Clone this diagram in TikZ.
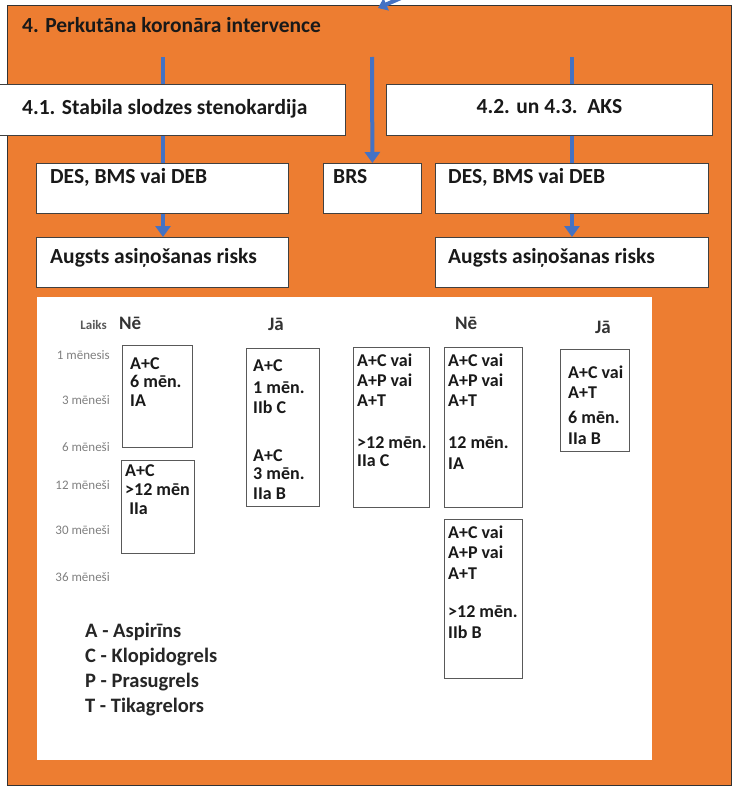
\documentclass[tikz,border=0pt]{standalone}
\usepackage{fontspec}
\setmainfont{Carlito}
\usetikzlibrary{arrows.meta}
\definecolor{pciorange}{HTML}{ED7D31}
\definecolor{pciblue}{HTML}{4472C4}
\tikzset{
  wbox/.style={draw=black!75, line width=0.8pt, fill=white, anchor=north west, inner sep=0pt},
  cell/.style={draw=black!65, line width=1pt, fill=white, anchor=north west, inner sep=0pt},
  hd/.style={font=\fontsize{21.5}{25}\selectfont\bfseries, text=black!90, anchor=base west, inner sep=0pt},
  celltxt/.style={font=\fontsize{18}{20}\selectfont\bfseries, text=black!90, align=left, anchor=north west, inner sep=0pt},
  tm/.style={font=\fontsize{13}{15}\selectfont, text=black!50, anchor=base east, inner sep=0pt},
  colhd/.style={font=\fontsize{19}{22}\selectfont\bfseries, text=black!80, anchor=base west, inner sep=0pt},
  flow/.style={pciblue, line width=4pt},
  flowarr/.style={flow, -{Triangle[width=15pt,length=11pt]}}
}
\begin{document}
\begin{tikzpicture}[x=1pt,y=-1pt]
\useasboundingbox (0,0) rectangle (732,787);
% orange background
\filldraw[fill=pciorange, draw=black!80, line width=0.8pt] (7,5) rectangle (731,785);
\draw[flow, -{Triangle[width=13pt,length=9pt]}] (440,-14) .. controls (410,-6) .. (378,8);
\node[hd] (ttl) at (22,32) {4. Perkutāna koronāra intervence};

% start points of the three branches
\coordinate (ltop) at (163,57);
\coordinate (mtop) at (372,57);
\coordinate (rtop) at (572,57);

% upper boxes
\node[wbox, minimum width=347pt, minimum height=51pt] (ss) at (-2,84) {};
\node[wbox, minimum width=326pt, minimum height=51pt] (aks) at (386,84) {};
\node[wbox, minimum width=252pt, minimum height=50pt] (desl) at (36,163) {};
\node[wbox, minimum width=98pt, minimum height=50pt] (brs) at (323,163) {};
\node[wbox, minimum width=273pt, minimum height=50pt] (desr) at (435,163) {};
\node[wbox, minimum width=252pt, minimum height=50pt] (augl) at (36,237) {};
\node[wbox, minimum width=273pt, minimum height=50pt] (augr) at (435,237) {};

\node[hd] (sst) at ([shift={(24,30)}]ss.north west) {4.1. Stabila slodzes stenokardija};
\node[hd, anchor=base] (akst) at ([shift={(0,29)}]aks.north) {4.2. un 4.3.\ \ AKS};
\node[hd] (deslt) at ([shift={(14,20)}]desl.north west) {DES, BMS vai DEB};
\node[hd] (brst) at ([shift={(10,20)}]brs.north west) {BRS};
\node[hd] (desrt) at ([shift={(13,20)}]desr.north west) {DES, BMS vai DEB};
\node[hd] (auglt) at ([shift={(14,26)}]augl.north west) {Augsts asiņošanas risks};
\node[hd] (augrt) at ([shift={(13,26)}]augr.north west) {Augsts asiņošanas risks};

% connectors
\draw[flow] (ltop) -- (ltop |- ss.north);
\draw[flow] (ltop |- ss.south) -- (ltop |- desl.north);
\draw[flowarr] (ltop |- desl.south) -- (ltop |- augl.north);
\draw[flowarr] (mtop) -- (brs.north);
\draw[flow] (rtop) -- (rtop |- aks.north);
\draw[flow] (rtop |- aks.south) -- (rtop |- desr.north);
\draw[flowarr] (rtop |- desr.south) -- (rtop |- augr.north);

% white panel
\node[fill=white, minimum width=615pt, minimum height=463pt, anchor=north west, inner sep=0pt] (panel) at (37,297) {};

\node[font=\fontsize{13}{15}\selectfont\bfseries, text=black!65, anchor=base east, inner sep=0pt] (laiks) at (107,329) {Laiks};
\node[colhd] (neah) at (119,329) {Nē};
\node[colhd] (jaah) at (268,330) {Jā};
\node[colhd] (nebh) at (455,329) {Nē};
\node[colhd] (jabh) at (595,333) {Jā};

\foreach \lbl/\yy [count=\i] in {1 mēnesis/359, 3 mēneši/404, 6 mēneši/451, 12 mēneši/489, 30 mēneši/534, 36 mēneši/581}
  \node[tm] (tm\i) at (110,\yy) {\lbl};

% cells
\node[cell, minimum width=70pt, minimum height=102pt] (nea) at (122,345) {};
\node[cell, minimum width=73pt, minimum height=93pt] (neb) at (121,460) {};
\node[cell, minimum width=73pt, minimum height=158pt] (jaa) at (246,348) {};
\node[cell, minimum width=76pt, minimum height=160pt] (nec) at (353,347) {};
\node[cell, minimum width=78pt, minimum height=160pt] (ned) at (444,347) {};
\node[cell, minimum width=78pt, minimum height=159pt] (nee) at (444,519) {};
\node[cell, minimum width=69pt, minimum height=102pt] (jab) at (560,349) {};

\node[celltxt] (neat) at ([shift={(8,12)}]nea.north west) {A+C\\[-1.5pt]6 mēn.\\[-1.5pt]IA};
\node[celltxt] (nebt) at ([shift={(4,4)}]neb.north west) {A+C\\[-1pt]>12 mēn\\[-1pt]\ IIa};
\node[celltxt] (jaat) at ([shift={(7,11)}]jaa.north west) {A+C\\[2pt]1 mēn.\\IIb C\\[28pt]A+C\\[-2pt]3 mēn.\\IIa B};
\node[celltxt] (nect) at ([shift={(4,7)}]nec.north west) {A+C vai\\A+P vai\\A+T\\[22pt]>12 mēn.\\[-2pt]IIa C};
\node[celltxt] (nedt) at ([shift={(4,7)}]ned.north west) {A+C vai\\A+P vai\\A+T\\[22pt]12 mēn.\\[1pt]IA};
\node[celltxt] (neet) at ([shift={(4,7)}]nee.north west) {A+C vai\\A+P vai\\[1pt]A+T\\[18pt]>12 mēn.\\[1pt]IIb B};
\node[celltxt] (jabt) at ([shift={(8,17)}]jab.north west) {A+C vai\\A+T\\[5pt]6 mēn.\\[1pt]IIa B};

% legend
\node[font=\fontsize{20.5}{25}\selectfont\bfseries, text=black!85, align=left, anchor=north west, inner sep=0pt] (legend) at (85,623) {A - Aspirīns\\C - Klopidogrels\\P - Prasugrels\\T - Tikagrelors};
\end{tikzpicture}
\end{document}
